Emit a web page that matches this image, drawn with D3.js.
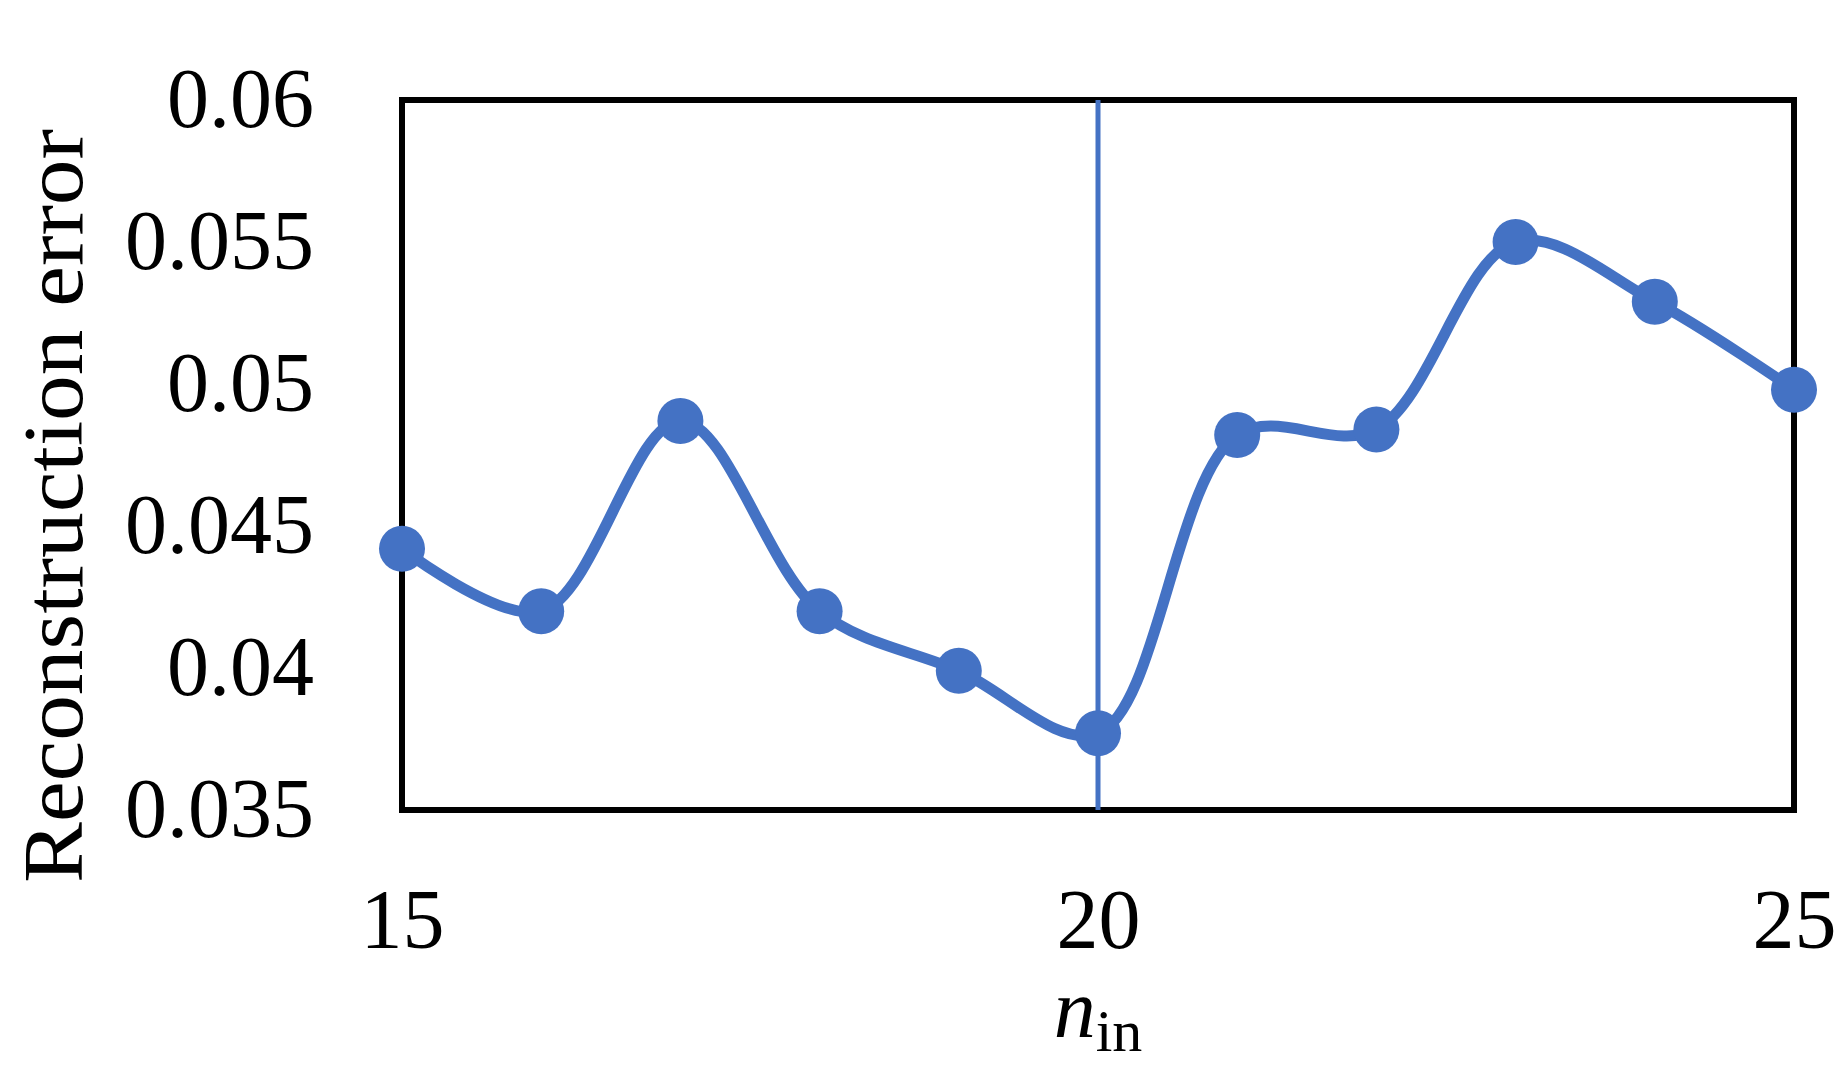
<!DOCTYPE html><html><head><meta charset="utf-8"><script src="https://cdn.jsdelivr.net/npm/d3@7"></script>
<style>body{margin:0;background:#fff}</style></head><body><svg id="c" width="1847" height="1091"></svg><script>
const xs=[15,16,17,18,19,20,21,22,23,24,25];
const ys=[0.0442,0.0420,0.0487,0.0420,0.0399,0.0377,0.0482,0.0484,0.0550,0.0529,0.0498];
const yTicks=[0.035,0.04,0.045,0.05,0.055,0.06];
const yLabels=["0.035","0.04","0.045","0.05","0.055","0.06"];
const xTicks=[15,20,25];
const markerX=20;
const svg=d3.select("#c");
const L=402,R=1794,T=100,B=810;
const x=d3.scaleLinear().domain([15,25]).range([L,R]);
const y=d3.scaleLinear().domain([0.035,0.06]).range([B,T]);
const font="'Liberation Serif','DejaVu Serif',serif";
const col="#4472C4";
svg.append("rect").attr("x",L).attr("y",T).attr("width",R-L).attr("height",B-T).attr("fill","none").attr("stroke","#000").attr("stroke-width",6);
svg.append("line").attr("x1",x(markerX)).attr("x2",x(markerX)).attr("y1",T).attr("y2",B).attr("stroke",col).attr("stroke-width",5);
const pts=xs.map((v,i)=>[x(v),y(ys[i])]);
svg.append("path").attr("d",d3.line().curve(d3.curveCatmullRom.alpha(0.5))(pts)).attr("fill","none").attr("stroke",col).attr("stroke-width",11);
svg.selectAll("circle").data(pts).join("circle").attr("cx",d=>d[0]).attr("cy",d=>d[1]).attr("r",23).attr("fill",col);
const ya=svg.append("g").attr("transform",`translate(${L},0)`).call(d3.axisLeft(y).tickValues(yTicks).tickFormat((d,i)=>yLabels[i]).tickSize(0).tickPadding(88));
const xa=svg.append("g").attr("transform",`translate(0,${B})`).call(d3.axisBottom(x).tickValues(xTicks).tickFormat(d3.format("d")).tickSize(0).tickPadding(78));
[ya,xa].forEach(a=>{a.select(".domain").remove();a.selectAll("text").attr("font-family",font).attr("font-size",84).attr("fill","#000");});
svg.append("text").attr("transform","translate(82,506) rotate(-90)").attr("text-anchor","middle").attr("font-family",font).attr("font-size",84).attr("textLength",754).attr("lengthAdjust","spacingAndGlyphs").text("Reconstruction error");
const t=svg.append("text").attr("x",x(20)).attr("y",1037).attr("text-anchor","middle").attr("font-family",font).attr("font-size",84);
t.append("tspan").attr("font-style","italic").text("n");
t.append("tspan").attr("font-size",60).attr("dy",14).text("in");
</script></body></html>
